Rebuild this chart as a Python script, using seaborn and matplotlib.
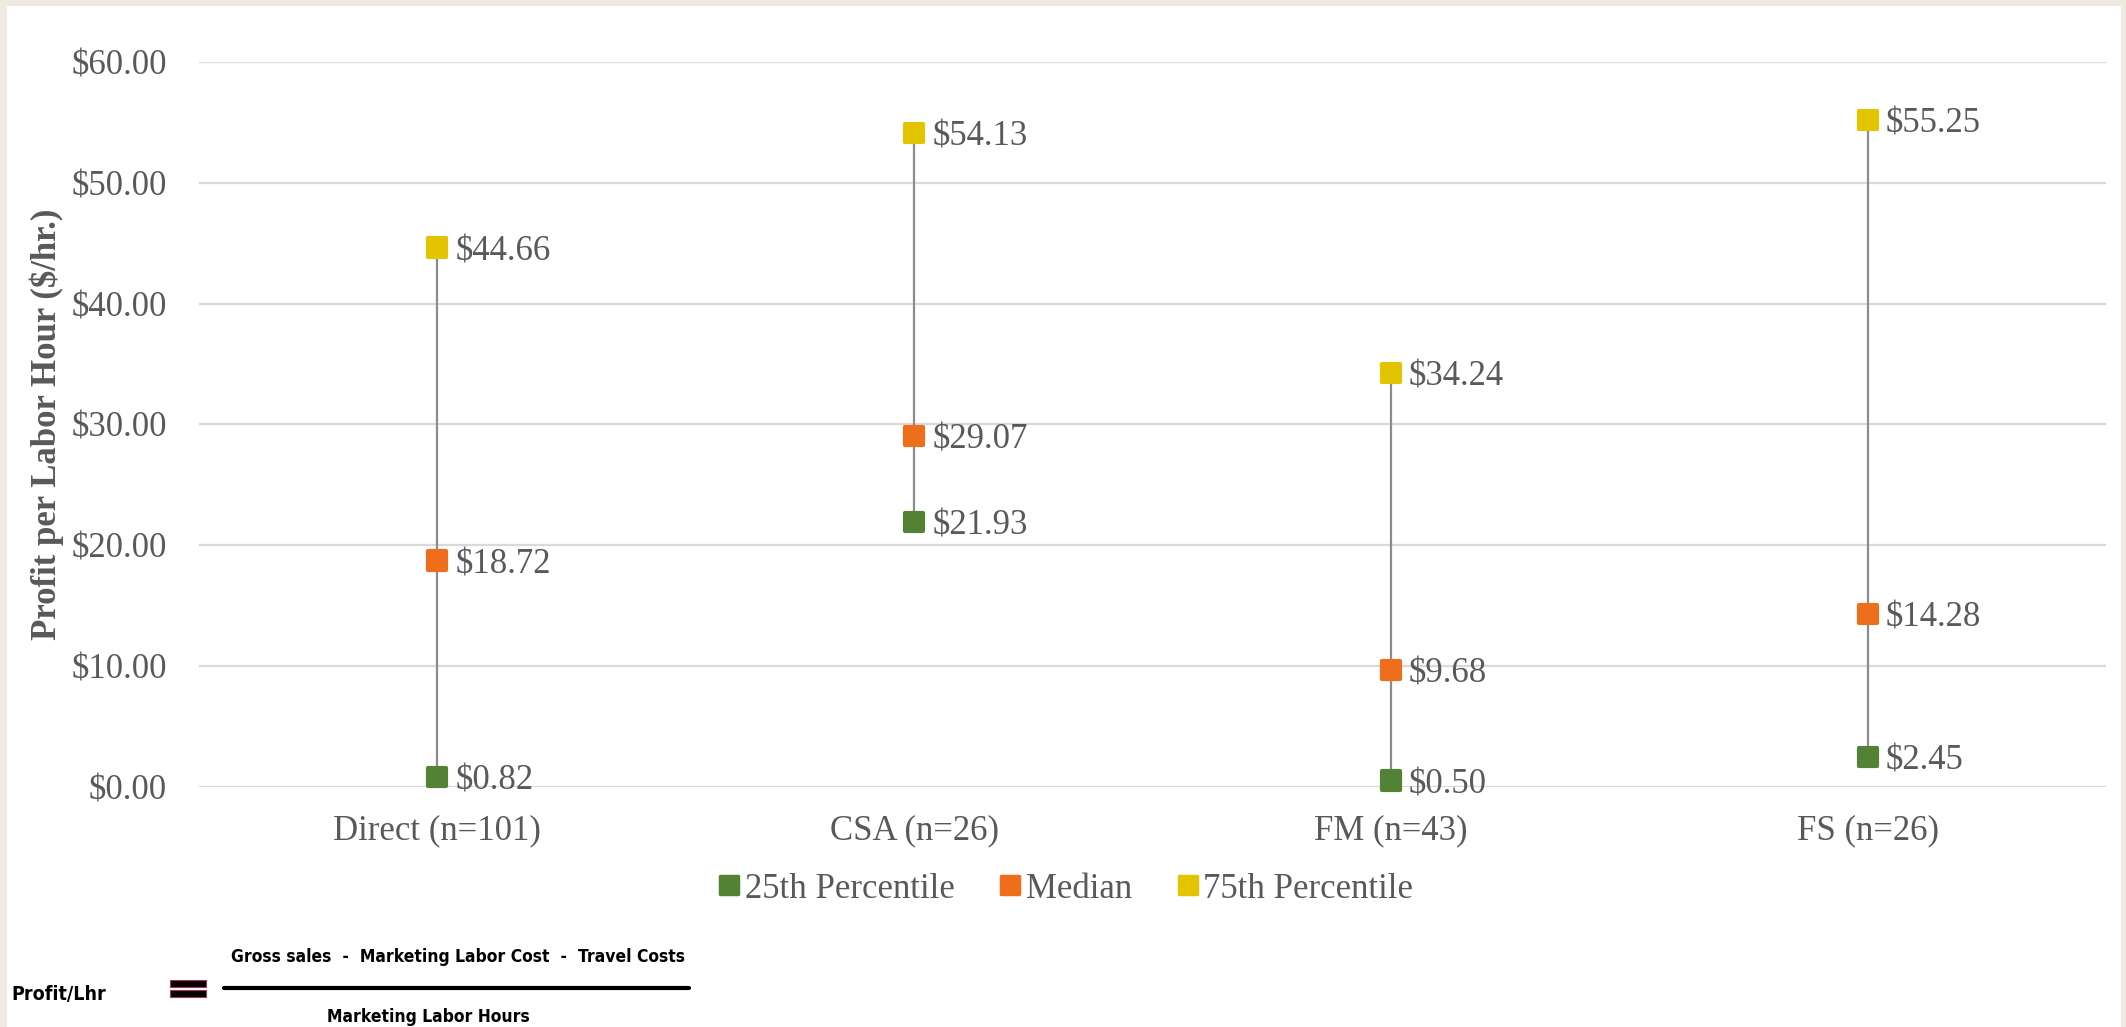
import matplotlib
matplotlib.use("Agg")
import matplotlib.pyplot as plt
from matplotlib.markers import MarkerStyle
from matplotlib.lines import Line2D
from matplotlib.patches import Rectangle
from matplotlib.ticker import FuncFormatter
import seaborn as sns
import pandas as pd

categories = ["Direct (n=101)", "CSA (n=26)", "FM (n=43)", "FS (n=26)"]
p25 = [0.82, 21.93, 0.50, 2.45]
median = [18.72, 29.07, 9.68, 14.28]
p75 = [44.66, 54.13, 34.24, 55.25]
series_names = ["25th Percentile", "Median", "75th Percentile"]
y_ticks = [0, 10, 20, 30, 40, 50, 60]

colors = ["#548235", "#EE6E1B", "#E2C400"]
text_color = "#595959"

rows = []
for name, vals in zip(series_names, [p25, median, p75]):
    for c, v in zip(categories, vals):
        rows.append({"category": c, "series": name, "value": v})
df = pd.DataFrame(rows)

sns.set_theme(style="white")
plt.rcParams["font.family"] = ["Liberation Serif", "DejaVu Serif"]

W, H = 2126, 1027
fig = plt.figure(figsize=(W / 100, H / 100), dpi=100)
fig.patch.set_facecolor("#EEEAE2")
fig.patches.append(Rectangle((7 / W, 0), (2121 - 7) / W, 1 - 6 / H,
                             transform=fig.transFigure, facecolor="white",
                             edgecolor="none", zorder=-10))

ax = fig.add_axes([199 / W, 1 - 786.5 / H, (2106 - 199) / W, (786.5 - 62.3) / H])
ax.set_facecolor("none")

# connecting lines
lows = [min(a, b, c) for a, b, c in zip(p25, median, p75)]
highs = [max(a, b, c) for a, b, c in zip(p25, median, p75)]
ax.vlines(categories, lows, highs, color="#8C8C8C", linewidth=1.6, zorder=2)

mk = MarkerStyle("s", joinstyle="round")
sns.scatterplot(data=df, x="category", y="value", hue="series",
                hue_order=series_names, palette=colors, marker=mk, s=170,
                linewidth=3, edgecolor="face", legend=False, ax=ax,
                zorder=3, clip_on=False)
for coll in ax.collections:
    try:
        coll.set_joinstyle("round")
    except Exception:
        pass

# data labels
for vals in [p25, median, p75]:
    for c, v in zip(categories, vals):
        ax.annotate(f"${v:.2f}", (c, v), xytext=(13, -3), textcoords="offset points",
                    ha="left", va="center", fontsize=25, color=text_color, zorder=4)

ax.set_xlim(-0.5, len(categories) - 0.5)
ax.set_ylim(0, 60)
ax.set_yticks(y_ticks)
ax.yaxis.set_major_formatter(FuncFormatter(lambda x, p: f"${x:.2f}"))
ax.grid(axis="y", color="#D9D9D9", linewidth=1.6)
ax.grid(axis="x", visible=False)
ax.set_axisbelow(True)
for s in ax.spines.values():
    s.set_visible(False)
ax.tick_params(axis="y", length=0, pad=23, labelsize=25, labelcolor=text_color)
ax.tick_params(axis="x", length=0, pad=20, labelsize=25, labelcolor=text_color)
ax.set_xlabel("")
ax.set_ylabel("Profit per Labor Hour ($/hr.)", fontsize=25, fontweight="bold",
              color=text_color)
ax.yaxis.set_label_coords((64 - 199) / (2106 - 199), 0.5)

# legend
handles = [Line2D([], [], linestyle="none", marker=mk, markersize=13,
                  markerfacecolor=col, markeredgecolor=col, markeredgewidth=2.5)
           for col in colors]
fig.legend(handles, series_names, loc="center", bbox_to_anchor=(1066 / W, 1 - 889 / H),
           ncol=3, frameon=False, fontsize=25, labelcolor=text_color,
           handlelength=0.6, handletextpad=0.15, columnspacing=1.3, borderaxespad=0)

# formula
sans = ["Liberation Sans Narrow", "DejaVu Sans"]
fig.text(11 / W, 1 - 994 / H, "Profit/Lhr", ha="left", va="center", fontsize=14,
         fontweight="bold", family=sans, fontstretch="condensed", color="black")
for y0, y1 in [(980, 987), (990, 997)]:
    fig.patches.append(Rectangle((170 / W, 1 - y1 / H), 36 / W, (y1 - y0) / H,
                                 transform=fig.transFigure, facecolor="black",
                                 edgecolor="#A8325F", linewidth=0.8, zorder=5))
fig.add_artist(Line2D([224 / W, 689 / W], [1 - 988 / H, 1 - 988 / H],
                      transform=fig.transFigure, color="black", linewidth=3))
fig.text(458 / W, 1 - 957 / H, "Gross sales  -  Marketing Labor Cost  -  Travel Costs",
         ha="center", va="center", fontsize=12.5, fontweight="bold", family=sans,
         fontstretch="condensed", color="black")
fig.text(428 / W, 1 - 1017 / H, "Marketing Labor Hours", ha="center", va="center",
         fontsize=12.5, fontweight="bold", family=sans, fontstretch="condensed",
         color="black")

fig.savefig("out.png", dpi=100, facecolor=fig.get_facecolor())
